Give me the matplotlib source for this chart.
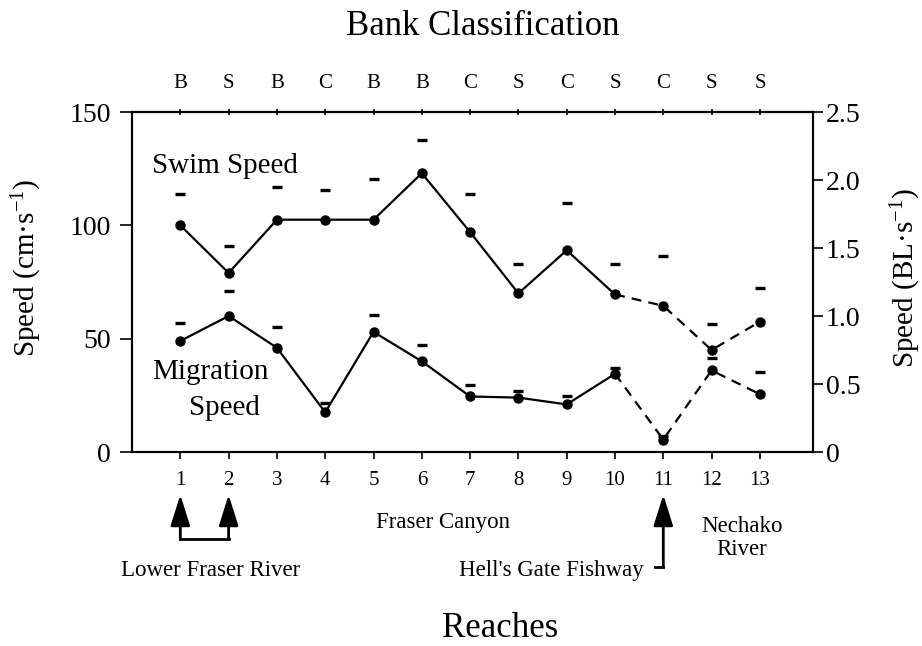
import matplotlib
matplotlib.use('Agg')
import matplotlib.pyplot as plt
import matplotlib.transforms as mtransforms
import numpy as np

plt.rcParams['font.family'] = 'Liberation Serif'
plt.rcParams['mathtext.fontset'] = 'custom'
plt.rcParams['mathtext.rm'] = 'Liberation Serif'
plt.rcParams['mathtext.it'] = 'Liberation Serif:italic'

# reach numbers and the bank type of each reach
reach = [1, 2, 3, 4, 5, 6, 7, 8, 9, 10, 11, 12, 13]
bank = ['B', 'S', 'B', 'C', 'B', 'B', 'C', 'S', 'C', 'S', 'C', 'S', 'S']

# mean speeds (cm/s) and their standard errors
swim_mean = [100, 79, 102.5, 102.5, 102.5, 123, 97, 70, 89, 69.5, 64.5, 45, 57.5]
swim_se = [14, 12, 14.5, 13, 18, 14.5, 17, 13, 21, 13.5, 22, 11.5, 15]
migr_mean = [49, 60, 46, 17.5, 53, 40, 24.5, 24, 21, 34.5, 5.5, 36, 25.5]
migr_se = [8, 11, 9, 4, 7.5, 7, 5, 3, 3.5, 2.5, 1.5, 5.5, 10]

body_len = 60  # cm, converts cm/s to BL/s on the right axis

fig = plt.figure(figsize=(9.22, 6.46), dpi=100)
fig.subplots_adjust(left=0.1432, right=0.8818, top=0.8266, bottom=0.3003)
ax = fig.add_subplot(111)

lw = 1.6
for mean, se in [(swim_mean, swim_se), (migr_mean, migr_se)]:
    mean = np.array(mean)
    se = np.array(se)
    # solid through reach 10, dashed upstream of it
    ax.plot(reach[:10], mean[:10], '-', color='k', lw=lw)
    ax.plot(reach[9:], mean[9:], color='k', lw=lw, dashes=(4.5, 3.2))
    ax.plot(reach, mean, 'o', color='k', ms=6.5)
    ax.plot(reach, mean + se, ls='none', marker='_', color='k', ms=7.5, mew=2.4)

ax.set_xlim(0, 14.1)
ax.set_ylim(0, 150)
ax.set_yticks([0, 50, 100, 150])
ax.set_xticks(reach)
for s in ax.spines.values():
    s.set_linewidth(1.5)
ax.tick_params(axis='y', direction='out', length=9, width=1.2, labelsize=20, pad=6)
ax.tick_params(axis='x', direction='out', length=5, width=1.2, labelsize=15, pad=9)

ax.text(0.42, 123, 'Swim Speed', fontsize=21, va='baseline')
ax.text(0.42, 32, 'Migration', fontsize=21, va='baseline')
ax.text(1.91, 16.5, 'Speed', fontsize=21, va='baseline', ha='center')

# bank classification along the top
top = ax.secondary_xaxis('top')
top.set_xticks(reach, bank)
top.tick_params(direction='inout', length=5, width=1.2, labelsize=15, pad=11)
top.spines['top'].set_linewidth(1.5)

# body lengths per second on the right
ax2 = ax.twinx()
ax2.set_ylim(0, 150 / body_len)
ax2.set_yticks([0, 0.5, 1.0, 1.5, 2.0, 2.5], ['0', '0.5', '1.0', '1.5', '2.0', '2.5'])
ax2.tick_params(axis='y', direction='out', length=7, width=1.2, labelsize=20, pad=2)
for s in ax2.spines.values():
    s.set_linewidth(1.5)

fig.text(0.029, 0.585, 'Speed (cm·s$^{-1}$)', rotation=90, fontsize=21,
         ha='center', va='center')
fig.text(0.983, 0.570, 'Speed (BL·s$^{-1}$)', rotation=90, fontsize=21,
         ha='center', va='center')
fig.text(0.524, 0.9458, 'Bank Classification', fontsize=25, ha='center', va='baseline')
fig.text(0.542, 0.014, 'Reaches', fontsize=25, ha='center', va='baseline')

# river sections marked under the reach numbers
trans = mtransforms.blended_transform_factory(ax.transData, fig.transFigure)
arrow = dict(arrowstyle='-|>,head_length=1.9,head_width=0.6', color='k', lw=2,
             shrinkA=0, shrinkB=0, mutation_scale=10)
for r in [1, 2]:
    ax.annotate('', xy=(r, 0.234), xytext=(r, 0.166), xycoords=trans,
                textcoords=trans, arrowprops=arrow, annotation_clip=False)
ax.plot([1, 2], [0.166, 0.166], color='k', lw=2, transform=trans, clip_on=False,
        solid_capstyle='projecting')
ax.annotate('', xy=(11, 0.234), xytext=(11, 0.122), xycoords=trans,
            textcoords=trans, arrowprops=arrow, annotation_clip=False)
ax.plot([10.82, 11], [0.122, 0.122], color='k', lw=2, transform=trans, clip_on=False,
        solid_capstyle='projecting')

ax.text(1.62, 0.1084, 'Lower Fraser River', fontsize=16.5, ha='center', va='baseline',
        transform=trans)
ax.text(6.44, 0.1827, 'Fraser Canyon', fontsize=16.5, ha='center', va='baseline',
        transform=trans)
ax.text(10.59, 0.1084, "Hell's Gate Fishway", fontsize=16.5, ha='right', va='baseline',
        transform=trans)
ax.text(12.63, 0.1409, 'Nechako\nRiver', fontsize=16.5, ha='center', va='baseline',
        multialignment='center', linespacing=1.15, transform=trans)

fig.savefig('out.png', dpi=100)
